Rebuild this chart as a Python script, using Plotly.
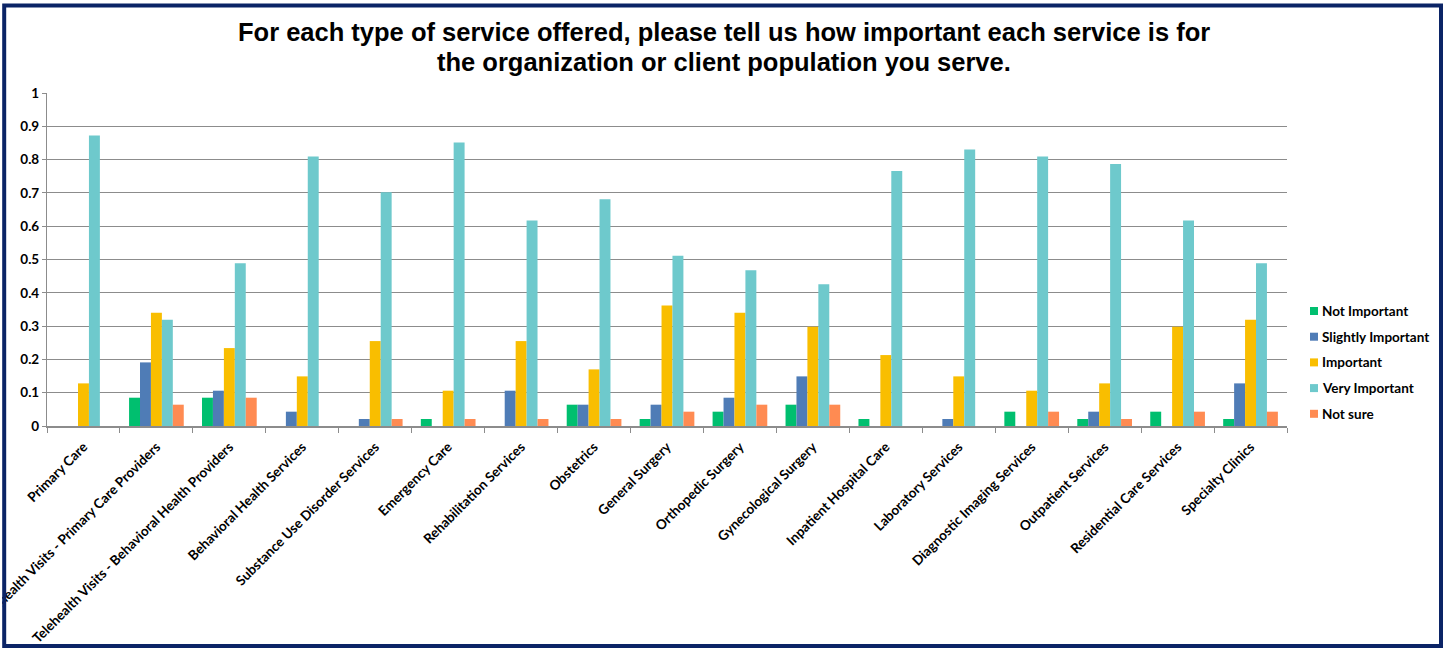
import plotly.graph_objects as go

# Survey services and share of responses per importance level
services = [
    "Primary Care",
    "Telehealth Visits - Primary Care Providers",
    "Telehealth Visits - Behavioral Health Providers",
    "Behavioral Health Services",
    "Substance Use Disorder Services",
    "Emergency Care",
    "Rehabilitation Services",
    "Obstetrics",
    "General Surgery",
    "Orthopedic Surgery",
    "Gynecological Surgery",
    "Inpatient Hospital Care",
    "Laboratory Services",
    "Diagnostic Imaging Services",
    "Outpatient Services",
    "Residential Care Services",
    "Specialty Clinics",
]

not_important = [0, 0.085, 0.085, 0, 0, 0.021, 0, 0.064, 0.021, 0.043, 0.064, 0.021, 0, 0.043, 0.021, 0.043, 0.021]
slightly_important = [0, 0.191, 0.106, 0.043, 0.021, 0, 0.106, 0.064, 0.064, 0.085, 0.149, 0, 0.021, 0, 0.043, 0, 0.128]
important = [0.128, 0.340, 0.234, 0.149, 0.255, 0.106, 0.255, 0.170, 0.362, 0.340, 0.298, 0.213, 0.149, 0.106, 0.128, 0.298, 0.319]
very_important = [0.872, 0.319, 0.489, 0.809, 0.702, 0.851, 0.617, 0.681, 0.511, 0.468, 0.426, 0.766, 0.830, 0.809, 0.787, 0.617, 0.489]
not_sure = [0, 0.064, 0.085, 0, 0.021, 0.021, 0.021, 0.021, 0.043, 0.064, 0.064, 0, 0, 0.043, 0.021, 0.043, 0.043]

series_names = ["Not Important", "Slightly Important", "Important", "Very Important", "Not sure"]
series_values = [not_important, slightly_important, important, very_important, not_sure]
series_colors = ["#00BF6F", "#4F7CB6", "#F9BE00", "#6EC9CC", "#FF8B52"]

title_lines = [
    "For each type of service offered, please tell us how important each service is for",
    "the organization or client population you serve.",
]

W, H = 1447, 648
L, R, T, B = 47, 160, 93, 222
pw, ph = W - L - R, H - T - B


def px_x(p):
    """Page pixel x -> paper fraction."""
    return (p - L) / pw


def px_y(p):
    """Page pixel y (from top) -> paper fraction."""
    return (H - B - p) / ph


label_font = dict(family="Lato, Carlito, sans-serif", size=13.5, color="#000000", weight="bold")

fig = go.Figure()
for name, vals, color in zip(series_names, series_values, series_colors):
    fig.add_trace(go.Bar(
        name=name, x=services, y=vals,
        marker=dict(color=color, line=dict(width=0)),
        showlegend=False,
    ))

fig.update_layout(
    width=W, height=H,
    margin=dict(l=L, r=R, t=T, b=B, pad=0, autoexpand=False),
    paper_bgcolor="white", plot_bgcolor="white",
    barmode="group", bargap=0.25, bargroupgap=0,
    showlegend=False,
    xaxis=dict(
        type="category", tickangle=-45, tickfont=label_font, automargin=False,
        showgrid=False, showline=True, linecolor="#8C8C8C", linewidth=1.5,
        ticks="outside", ticklen=5, tickcolor="#8C8C8C", tickwidth=1.2,
        tickson="boundaries", zeroline=False, ticklabelstandoff=6,
    ),
    yaxis=dict(
        range=[0, 1], dtick=0.1, tickformat="~g", tickfont=label_font, automargin=False,
        showgrid=True, gridcolor="#8C8C8C", gridwidth=1.2,
        showline=True, linecolor="#8C8C8C", linewidth=1.2,
        ticks="outside", ticklen=4, tickcolor="#8C8C8C",
        zeroline=False,
    ),
)

# Two-line chart heading
for i, line in enumerate(title_lines):
    fig.add_annotation(
        text=line, xref="paper", yref="paper",
        x=px_x(W / 2), y=px_y(32 + 30 * i), xanchor="center", yanchor="middle",
        showarrow=False,
        font=dict(family="Liberation Sans, Arial, sans-serif", size=25.5, color="#000000", weight="bold"),
    )

# Legend: colour swatch plus label for each series
legend_y0, legend_step = 311, 25.7
for i, (name, color) in enumerate(zip(series_names, series_colors)):
    yc = legend_y0 + legend_step * i
    fig.add_shape(type="rect", xref="paper", yref="paper",
                  x0=px_x(1310), x1=px_x(1318), y0=px_y(yc + 4), y1=px_y(yc - 4),
                  fillcolor=color, line=dict(width=0))
    fig.add_annotation(text=name, xref="paper", yref="paper",
                       x=px_x(1320), y=px_y(yc), xanchor="left", yanchor="middle",
                       showarrow=False, font=label_font)

# Frame around the whole chart
fig.add_shape(type="rect", xref="paper", yref="paper",
              x0=px_x(-5), x1=px_x(2.2), y0=px_y(H + 5), y1=px_y(-5),
              fillcolor="white", line=dict(width=0), layer="above")
fig.add_shape(type="rect", xref="paper", yref="paper",
              x0=px_x(4.2), x1=px_x(1441), y0=px_y(646), y1=px_y(5.5),
              line=dict(color="#0B2466", width=4), fillcolor="rgba(0,0,0,0)", layer="above")

fig.write_html("out.html")
